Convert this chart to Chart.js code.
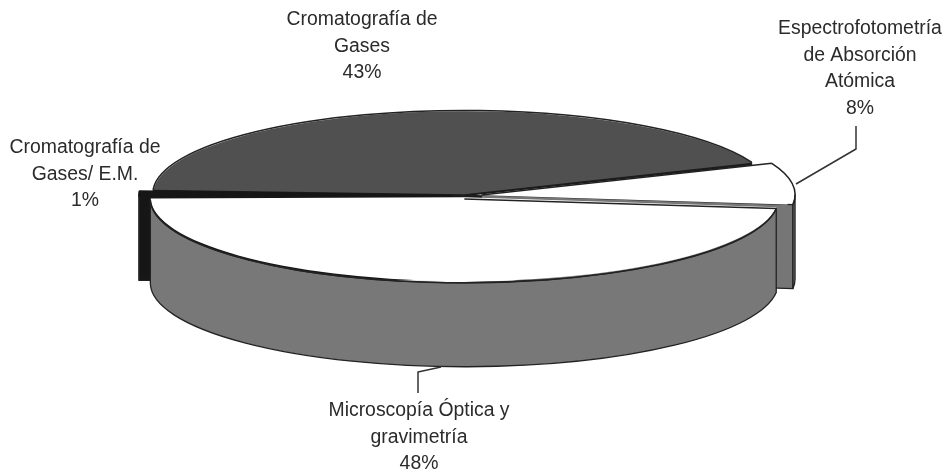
<!DOCTYPE html>
<html><head><meta charset="utf-8">
<style>html,body{margin:0;padding:0;background:#fff}#w{width:942px;height:472px;position:relative}</style>
<script src="https://cdn.jsdelivr.net/npm/chart.js@4"></script>
</head><body><div id="w"><canvas id="c"></canvas></div>
<script>
const categories = ["Cromatografía de Gases", "Espectrofotometría de Absorción Atómica", "Microscopía Óptica y gravimetría", "Cromatografía de Gases/ E.M."];
const percentages = [43, 8, 48, 1];
const labelLines = [["Cromatografía de", "Gases"], ["Espectrofotometría", "de Absorción", "Atómica"], ["Microscopía Óptica y", "gravimetría"], ["Cromatografía de", "Gases/ E.M."]];

// style + layout (not data)
const topColors = ["#505050", "#ffffff", "#ffffff", "#161616"];
const sideColors = ["#1c1c1c", "#767676", "#787878", "#161616"];
const sliceOffsets = [20, 43.6, 27.4, 25];
const drawOrder = [0, 1, 3, 2];
const P = {cx: 465, cy: 195.5, k: 0.267, depth: 84, radius: 308, ink: "#222"};
const labelAnchors = [[362, 20], [860, 29], [419, 411], [85, 148]];
const leaders = [[[796, 184], [856, 149], [856, 126]], [[441, 367], [418, 372], [418, 393]]];
const FONT = '19.4px "Liberation Sans", Arial, sans-serif';
const LINE = 26.5;

// Same displacement and radius growth that Chart.js applies to an offset arc
function geo(el, options) {
  const s = el.startAngle, e = el.endAngle, circ = e - s, mid = (s + e) / 2;
  const off = (options.offset || 0) / 4;
  const grow = off * (1 - Math.sin(Math.min(Math.PI, circ)));
  const d = off + grow;
  const rx = el.outerRadius + grow;
  return {s, e, cx: P.cx + Math.cos(mid) * d, cy: P.cy + Math.sin(mid) * d * P.k, rx, ry: rx * P.k};
}
function rim(g, t, dy) { return [g.cx + g.rx * Math.cos(t), g.cy + g.ry * Math.sin(t) + dy]; }

const pie3d = {
  id: "pie3d",
  beforeDatasetsDraw(chart) {
    const ctx = chart.ctx, meta = chart.getDatasetMeta(0);
    ctx.save();
    ctx.lineWidth = 1.3; ctx.strokeStyle = P.ink; ctx.lineJoin = "round";
    drawOrder.forEach(i => {
      const el = meta.data[i], g = geo(el, el.options);
      ctx.fillStyle = sideColors[i];
      // radial cut faces that look towards the viewer
      [[g.s, Math.cos(g.s) < 0], [g.e, Math.cos(g.e) > 0]].forEach(([a, show]) => {
        if (!show) return;
        const r = rim(g, a, 0);
        ctx.beginPath(); ctx.moveTo(g.cx, g.cy); ctx.lineTo(r[0], r[1]);
        ctx.lineTo(r[0], r[1] + P.depth); ctx.lineTo(g.cx, g.cy + P.depth); ctx.closePath();
        ctx.fill(); ctx.stroke();
      });
      // outer curved wall, front half only
      for (let n = -1; n <= 2; n++) {
        const lo = Math.max(g.s, n * 2 * Math.PI), hi = Math.min(g.e, n * 2 * Math.PI + Math.PI);
        if (hi <= lo) continue;
        ctx.beginPath();
        ctx.ellipse(g.cx, g.cy, g.rx, g.ry, 0, lo, hi);
        ctx.ellipse(g.cx, g.cy + P.depth, g.rx, g.ry, 0, hi, lo, true);
        ctx.closePath(); ctx.fill(); ctx.stroke();
      }
    });
    ctx.restore();
    const c = meta.data[0];
    ctx.save();
    ctx.translate(P.cx, P.cy); ctx.scale(1, P.k); ctx.translate(-c.x, -c.y);
  },
  afterDatasetsDraw(chart) {
    const ctx = chart.ctx, meta = chart.getDatasetMeta(0);
    ctx.restore();
    ctx.save();
    ctx.lineWidth = 1.5; ctx.strokeStyle = P.ink; ctx.lineJoin = "round";
    drawOrder.forEach(i => {
      const el = meta.data[i], g = geo(el, el.options);
      ctx.beginPath(); ctx.ellipse(g.cx, g.cy, g.rx, g.ry, 0, g.s, g.e);
      // the back radial edge closes the top surface against what lies behind it
      if (Math.cos(g.s) >= 0) { const r = rim(g, g.s, 0); ctx.moveTo(r[0], r[1]); ctx.lineTo(g.cx, g.cy); }
      ctx.stroke();
    });
    // re-ink the thin dark slice so its wedge joins its wall
    const dark = meta.data[3], dg = geo(dark, dark.options);
    ctx.fillStyle = topColors[3]; ctx.strokeStyle = topColors[3];
    ctx.beginPath(); ctx.moveTo(dg.cx, dg.cy); ctx.ellipse(dg.cx, dg.cy, dg.rx, dg.ry, 0, dg.s, dg.e); ctx.closePath();
    ctx.fill(); ctx.stroke();

    ctx.strokeStyle = "#333"; ctx.lineWidth = 1.5;
    leaders.forEach(pts => {
      ctx.beginPath(); pts.forEach((p, j) => j ? ctx.lineTo(p[0], p[1]) : ctx.moveTo(p[0], p[1])); ctx.stroke();
    });
    ctx.fillStyle = "#2b2b2b"; ctx.font = FONT; ctx.textAlign = "center"; ctx.textBaseline = "middle";
    labelLines.forEach((lines, i) => {
      const all = lines.concat(percentages[i] + "%");
      all.forEach((t, j) => ctx.fillText(t, labelAnchors[i][0], labelAnchors[i][1] + j * LINE));
    });
    ctx.restore();
  }
};

new Chart(document.getElementById("c"), {
  type: "pie",
  data: {labels: categories, datasets: [{data: percentages, backgroundColor: topColors, borderWidth: 0, offset: sliceOffsets, clip: false}]},
  options: {
    responsive: true, maintainAspectRatio: false, animation: false,
    rotation: 273, radius: P.radius,
    plugins: {legend: {display: false}, tooltip: {enabled: false}}
  },
  plugins: [pie3d]
});
</script>
</body></html>
